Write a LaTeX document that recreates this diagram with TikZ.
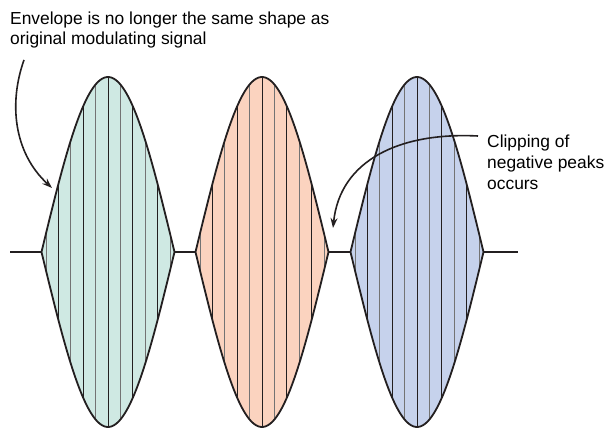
\documentclass[tikz,border=0pt]{standalone}
\usepackage{fontspec}
\setmainfont{Liberation Sans}
\usepackage{xcolor}
\usetikzlibrary{arrows.meta}
\definecolor{lobegreen}{HTML}{CFE9E3}
\definecolor{lobered}{HTML}{FBD3BF}
\definecolor{lobeblue}{HTML}{C6D2EC}
\definecolor{tratto}{HTML}{231F20}

\begin{document}
\begin{tikzpicture}[x=1pt,y=-1pt]
% Stili
\tikzstyle{nota} = [
    inner sep=0pt,
    align=left,
    font=\fontsize{17.4}{20.8}\selectfont
]

\tikzstyle{inviluppo} = [
    draw=tratto,
    line width=1.8pt,
    line join=round
]

\tikzstyle{portante} = [
    line width=0.8pt,
    tratto
]

\tikzstyle{portantegrigia} = [
    line width=1pt,
    black!55
]

\tikzstyle{freccia} = [
    -{Stealth[length=10pt,width=7pt]},
    line width=1.6pt,
    tratto
]

\useasboundingbox (0,0) rectangle (608,428);

% Linea di base
\coordinate (base0) at (10,252);
\coordinate (base1) at (518,252);
\draw[inviluppo] (base0) -- (base1);

% Lobi
\foreach \c/\col in {108/lobegreen,262/lobered,417/lobeblue}{
  \begin{scope}
    \clip plot[domain=0:180,samples=60] ({\c-66.5+\x/180*133},{252-175*sin(\x)})
      -- plot[domain=180:0,samples=60] ({\c-66.5+\x/180*133},{252+175*sin(\x)}) -- cycle;
    \fill[\col] (\c-70,70) rectangle (\c+70,435);
    \foreach \k in {-4,-2,...,4}
      \draw[portante] (\c+12.4*\k,70) -- (\c+12.4*\k,435);
    \foreach \k in {-5,-3,...,5}
      \draw[portantegrigia] (\c+12.4*\k,70) -- (\c+12.4*\k,435);
  \end{scope}
  \draw[inviluppo] plot[domain=0:180,samples=60] ({\c-66.5+\x/180*133},{252-175*sin(\x)})
    -- plot[domain=180:0,samples=60] ({\c-66.5+\x/180*133},{252+175*sin(\x)}) -- cycle;
}

% Testi
\node[nota, anchor=base west] (invtesto) at (10,45)
{Envelope is no longer the same shape as\\original modulating signal};

\node[nota, anchor=base west] (cliptesto) at (487,189)
{Clipping of\\negative peaks\\occurs};

% Frecce
\coordinate (inizio1) at (24,60);
\coordinate (punta1) at (52,188);
\draw[freccia] (inizio1) .. controls (9,102) and (13,152) .. (punta1);

\coordinate (inizio2) at (478,136);
\coordinate (punta2) at (333,228);
\draw[freccia] (inizio2) .. controls (400,132) and (340,160) .. (punta2);

\end{tikzpicture}
\end{document}
